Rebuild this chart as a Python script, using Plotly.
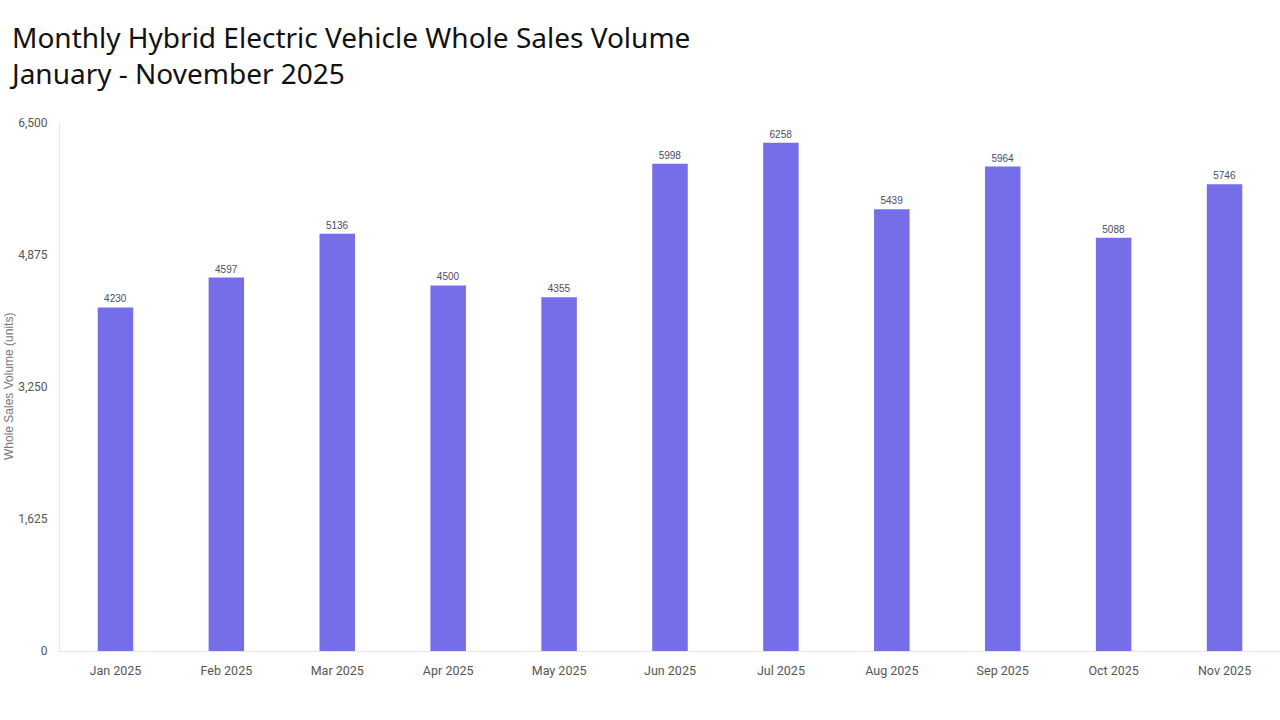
import plotly.graph_objects as go

# ---------------------------------------------------------------------------
# Data
# ---------------------------------------------------------------------------
months = ["Jan 2025", "Feb 2025", "Mar 2025", "Apr 2025", "May 2025", "Jun 2025",
          "Jul 2025", "Aug 2025", "Sep 2025", "Oct 2025", "Nov 2025"]
sales = [4230, 4597, 5136, 4500, 4355, 5998, 6258, 5439, 5964, 5088, 5746]
y_ticks = [0, 1625, 3250, 4875, 6500]
title_lines = ["Monthly Hybrid Electric Vehicle Whole Sales Volume",
               "January - November 2025"]
y_title = "Whole Sales Volume (units)"

bar_color = "#766DE9"
axis_color = "#E6E4EE"
tick_color = "#555555"

fig = go.Figure(go.Bar(
    x=months,
    y=sales,
    marker=dict(color=bar_color, line=dict(width=0)),
    text=[str(v) for v in sales],
    textposition="outside",
    textfont=dict(family="Liberation Sans", size=10, color="#4B4B63"),
    cliponaxis=False,
    hovertemplate="%{x}: %{y}<extra></extra>",
))

fig.update_layout(
    width=1280,
    height=720,
    paper_bgcolor="white",
    plot_bgcolor="white",
    margin=dict(l=60, r=0, t=123, b=69),
    bargap=0.68,
    showlegend=False,
    xaxis=dict(
        showgrid=False,
        showline=True,
        linecolor=axis_color,
        linewidth=1,
        ticks="",
        ticklabelstandoff=8,
        tickfont=dict(family="Roboto", size=12.5, color=tick_color),
    ),
    yaxis=dict(
        range=[0, 6500],
        tickvals=y_ticks,
        tickformat=",",
        showgrid=False,
        zeroline=False,
        showline=True,
        linecolor=axis_color,
        linewidth=1,
        ticks="",
        automargin=False,
        ticklabelstandoff=9,
        tickfont=dict(family="Roboto", size=12, color=tick_color),
    ),
)

# chart title, two left-aligned lines above the plot
fig.add_annotation(
    text="<br>".join(title_lines),
    xref="paper", yref="paper",
    x=-53 / 1220, y=1 + 107 / 528,
    xanchor="left", yanchor="top",
    align="left",
    showarrow=False,
    font=dict(family="Noto Sans", size=28, color="#111111"),
)

# y axis title at the far left edge
fig.add_annotation(
    text=y_title,
    xref="paper", yref="paper",
    x=-51 / 1220, y=0.5,
    xanchor="center", yanchor="middle",
    textangle=-90,
    showarrow=False,
    font=dict(family="Liberation Sans", size=12, color="#777777"),
)

# drop the default page margin so the figure fills the window exactly
fig.write_html(
    "out.html",
    config={"displayModeBar": False},
    post_script="document.body.style.margin = '0';",
)
